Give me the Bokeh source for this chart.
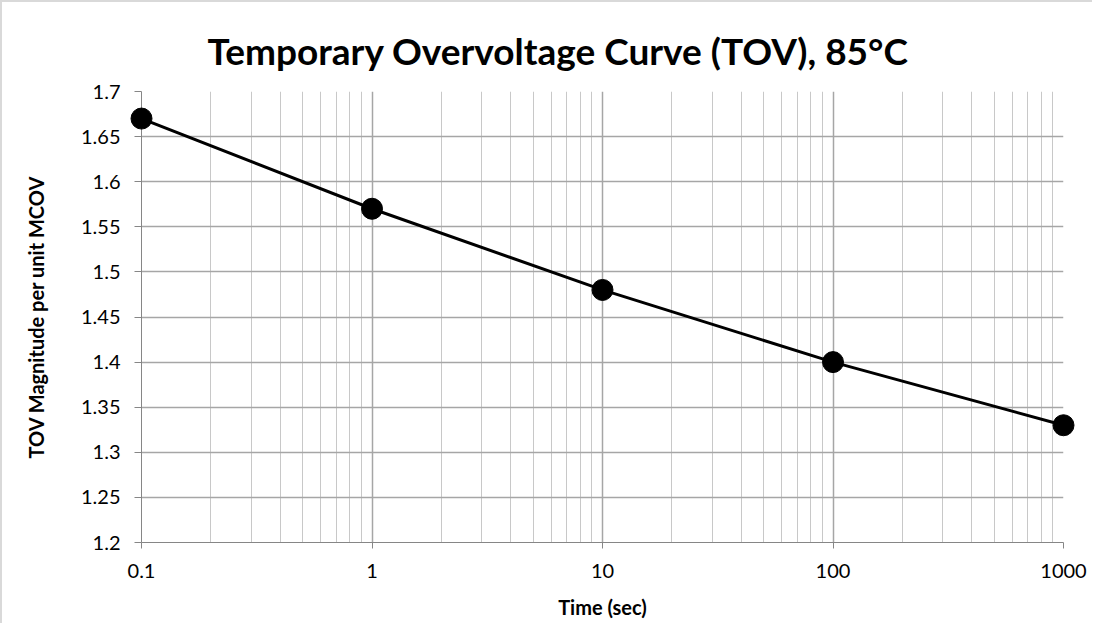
from bokeh.plotting import figure
from bokeh.models import FixedTicker
from bokeh.embed import file_html
from bokeh.resources import INLINE

time_sec = [0.1, 1, 10, 100, 1000]
tov_pu = [1.67, 1.57, 1.48, 1.40, 1.33]
x_ticks = [0.1, 1, 10, 100, 1000]
x_labels = ["0.1", "1", "10", "100", "1000"]
x_minor = [0.2, 0.3, 0.4, 0.5, 0.6, 0.7, 0.8, 0.9,
           2, 3, 4, 5, 6, 7, 8, 9,
           20, 30, 40, 50, 60, 70, 80, 90,
           200, 300, 400, 500, 600, 700, 800, 900]
y_ticks = [1.2, 1.25, 1.3, 1.35, 1.4, 1.45, 1.5, 1.55, 1.6, 1.65, 1.7]
y_labels = ["1.2", "1.25", "1.3", "1.35", "1.4", "1.45", "1.5", "1.55", "1.6", "1.65", "1.7"]

FONT = "Lato"

p = figure(width=1092, height=623, x_axis_type="log",
           x_range=(0.1, 1000), y_range=(1.2, 1.7),
           output_backend="svg", toolbar_location=None,
           min_border_left=139, min_border_right=31,
           min_border_top=89, min_border_bottom=83,
           title="Temporary Overvoltage Curve (TOV), 85\u00b0C")

p.title.text_font = FONT
p.title.text_font_size = "37px"
p.title.text_font_style = "bold"
p.title.align = "left"
p.title.offset = 66
p.title.text_color = "black"
p.title.standoff = 38

p.outline_line_color = None
p.background_fill_color = "white"
p.border_fill_color = "white"

# x axis
p.xaxis.ticker = FixedTicker(ticks=x_ticks, minor_ticks=x_minor)
p.xaxis.major_label_overrides = {t: l for t, l in zip(x_ticks, x_labels)}
p.xaxis.axis_label = "Time (sec)"
p.xaxis.axis_label_text_font = FONT
p.xaxis.axis_label_text_font_style = "bold"
p.xaxis.axis_label_text_font_size = "20px"
p.xaxis.axis_label_text_color = "black"
p.xaxis.axis_label_standoff = 14
p.xaxis.major_label_text_font = FONT
p.xaxis.major_label_text_font_size = "20px"
p.xaxis.major_label_text_color = "black"
p.xaxis.major_label_standoff = 15
p.xaxis.major_tick_out = 6
p.xaxis.major_tick_in = 0
p.xaxis.minor_tick_line_color = None
p.xaxis.axis_line_color = "#868686"
p.xaxis.major_tick_line_color = "#868686"

# y axis
p.yaxis.ticker = FixedTicker(ticks=y_ticks)
p.yaxis.major_label_overrides = {t: l for t, l in zip(y_ticks, y_labels)}
p.yaxis.axis_label = "TOV Magnitude per unit MCOV"
p.yaxis.axis_label_text_font = FONT
p.yaxis.axis_label_text_font_style = "bold"
p.yaxis.axis_label_text_font_size = "20px"
p.yaxis.axis_label_text_color = "black"
p.yaxis.axis_label_standoff = 30
p.yaxis.major_label_text_font = FONT
p.yaxis.major_label_text_font_size = "20px"
p.yaxis.major_label_text_color = "black"
p.yaxis.major_label_standoff = 14
p.yaxis.major_tick_out = 7
p.yaxis.major_tick_in = 0
p.yaxis.minor_tick_line_color = None
p.yaxis.axis_line_color = "#868686"
p.yaxis.major_tick_line_color = "#868686"

# grids
p.xgrid.grid_line_color = "#a6a6a6"
p.xgrid.minor_grid_line_color = "#c8c8c8"
p.ygrid.grid_line_color = "#a6a6a6"
p.xgrid.grid_line_width = 1.5
p.ygrid.grid_line_width = 1.5

p.line(time_sec, tov_pu, line_color="black", line_width=3, level="overlay")
p.scatter(time_sec, tov_pu, size=21, fill_color="black", line_color="black", level="overlay")

p.styles = {"border-top": "2px solid #d9d9d9", "border-left": "2px solid #d9d9d9"}

open("out.html", "w").write(file_html(p, INLINE))
